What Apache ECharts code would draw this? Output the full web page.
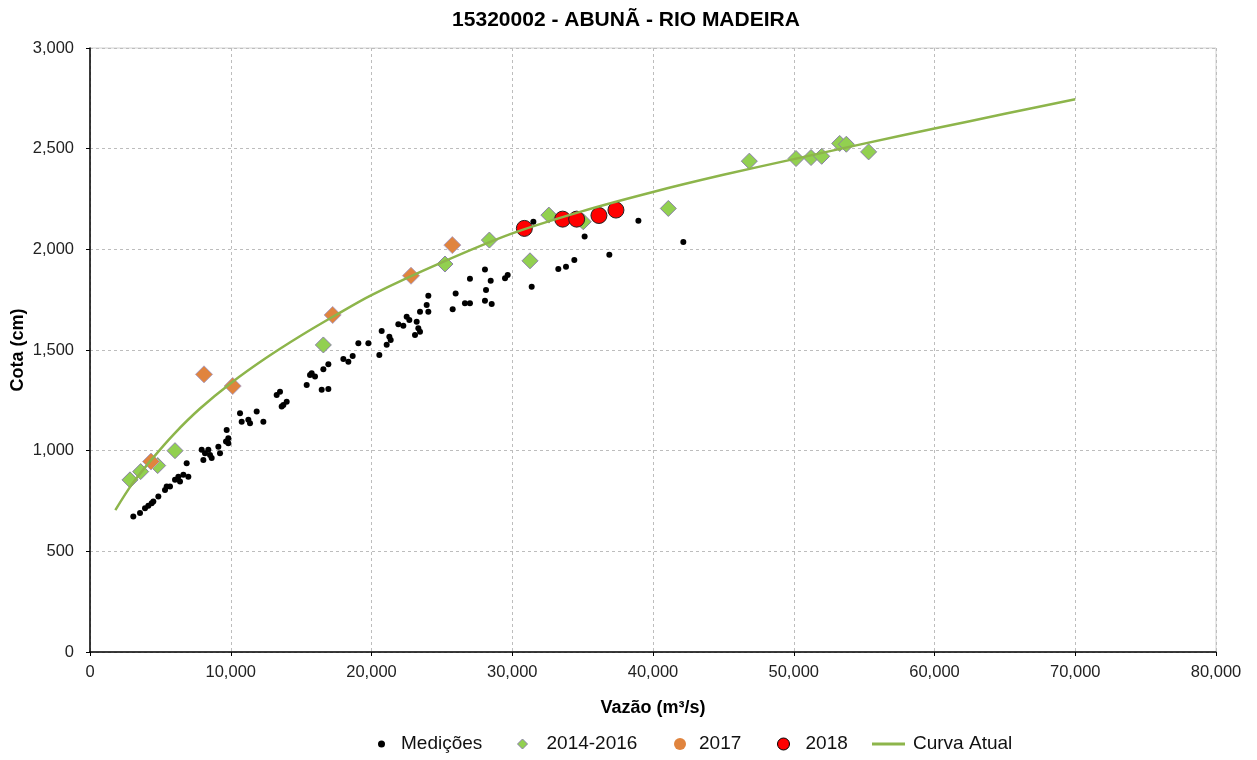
<!DOCTYPE html>
<html><head><meta charset="utf-8">
<script src="https://cdn.jsdelivr.net/npm/echarts@6/dist/echarts.min.js"></script>
<style>html,body{margin:0;padding:0;background:#fff}#c{width:1257px;height:760px}</style>
</head><body><div id="c"></div>
<script>
const titleText = "15320002 - ABUNÃ - RIO MADEIRA";
const xName = "Vazão (m³/s)";
const yName = "Cota (cm)";
const seriesNames = ["Medições", "2014-2016", "2017", "2018", "Curva Atual"];

const medQ = [3077,3553,3908,4144,4381,4500,4855,5329,5447,5684,6040,6277,6395,6632,6987,6869,7935,8172,8053,8408,8527,8645,9119,9237,9710,9829,9829,9663,10658,10776,11250,11368,11842,12316,13263,13500,13618,13737,13974,15395,15632,15750,15987,16461,16579,16934,16934,18000,18355,18663,19066,19776,20557,20723,21079,21268,21363,21907,22262,22499,22688,23091,23210,23328,23446,23446,23920,24038,24038,25766,25979,26640,26995,26995,28061,28061,28137,28469,28540,29487,29676,31381,31499,33273,33818,34410,35141,36898,38963,42155];
const medH = [673,690,714,726,739,747,772,805,822,822,855,871,847,880,871,938,1004,987,954,1004,979,963,1020,987,1103,1062,1037,1045,1186,1144,1153,1136,1194,1144,1277,1293,1219,1227,1243,1326,1376,1384,1368,1302,1404,1306,1429,1455,1442,1470,1533,1533,1475,1594,1526,1566,1550,1628,1620,1665,1649,1574,1640,1608,1591,1690,1723,1690,1769,1703,1781,1732,1732,1854,1745,1900,1798,1844,1728,1856,1872,1814,2137,1902,1913,1947,2064,1973,2142,2037];

const q1416 = [2842,3600,4808,6040,16579,25222,28374,31262,32600,35046,41089,46845,50162,51228,51986,53263,53736,55319];
const h1416 = [855,896,926,1000,1525,1927,2046,1943,2170,2137,2203,2438,2451,2456,2462,2526,2522,2484];

const q2017 = [4334,8100,10139,17242,22808,25742];
const h2017 = [946,1379,1321,1674,1869,2021];

const q2018 = [30860,33582,34576,36160,37368];
const h2018 = [2104,2150,2150,2168,2195];

const curveQ = [1800,3000,4400,6000,7800,10000,12500,15000,17500,20000,25000,30000,35000,40000,45000,50000,55000,60000,65000,70000];
const curveH = [705,835,958,1085,1208,1335,1460,1572,1675,1773,1935,2079,2190,2285,2370,2448,2525,2600,2673,2745];

const zip = (a, b) => a.map((v, i) => [v, b[i]]);
const fmt = v => v.toLocaleString('en-US');

const chart = echarts.init(document.getElementById('c'), null, {renderer: 'canvas'});
const font = "'Liberation Sans', Arial, sans-serif";
const legText = (pad) => ({fontFamily: font, fontSize: 19, color: '#111', padding: [0, 0, 0, pad], lineHeight: 22});
const leg = (name, left, w, h, icon, pad, extra) => ({
  show: true, orient: 'horizontal', left: left, top: 733, itemWidth: w, itemHeight: h, itemGap: 0,
  padding: 0, textStyle: legText(pad), data: [Object.assign({name: name, icon: icon}, extra || {})]
});

chart.setOption({
  animation: false,
  backgroundColor: '#ffffff',
  title: {
    text: titleText, left: 621, top: 5, textAlign: 'center',
    textStyle: {fontFamily: font, fontSize: 21, fontWeight: 'bold', color: '#000'}
  },
  grid: {left: 90, right: 41, top: 48, bottom: 108, show: true, borderColor: '#d0d0d0', borderWidth: 1,
         containLabel: false, outerBoundsMode: 'none'},
  legend: [
    leg(seriesNames[0], 378, 7, 7, 'circle', 11, {itemStyle: {color: '#000'}}),
    leg(seriesNames[1], 517, 10, 10, 'diamond', 14, {itemStyle: {color: '#92d050', borderColor: '#8a80a8', borderWidth: 1}}),
    leg(seriesNames[2], 674, 12, 12, 'circle', 8, {itemStyle: {color: '#e0843e', borderWidth: 0}}),
    leg(seriesNames[3], 777, 12, 12, 'circle', 11, {itemStyle: {color: '#ff0000', borderColor: '#000', borderWidth: 1}}),
    leg(seriesNames[4], 872, 33, 3, 'rect', 3, {itemStyle: {color: '#8db54b', borderWidth: 0}})
  ],
  xAxis: {
    type: 'value', min: 0, max: 80000, interval: 10000,
    name: xName, nameLocation: 'middle', nameGap: 47, nameMoveOverlap: false,
    nameTextStyle: {fontFamily: font, fontSize: 18, fontWeight: 'bold', color: '#000'},
    axisLine: {show: true, lineStyle: {color: '#000', width: 1.5}},
    axisTick: {show: true, length: 4, lineStyle: {color: '#000'}},
    axisLabel: {formatter: fmt, fontFamily: font, fontSize: 16.5, color: '#222', margin: 12},
    splitLine: {show: true, lineStyle: {color: '#bdbdbd', type: [3, 3], width: 1}}
  },
  yAxis: {
    type: 'value', min: 0, max: 3000, interval: 500,
    name: yName, nameLocation: 'middle', nameGap: 63, nameMoveOverlap: false,
    nameTextStyle: {fontFamily: font, fontSize: 18, fontWeight: 'bold', color: '#000'},
    axisLine: {show: true, lineStyle: {color: '#000', width: 1.5}},
    axisTick: {show: true, length: 4, lineStyle: {color: '#000'}},
    axisLabel: {formatter: fmt, fontFamily: font, fontSize: 16.5, color: '#222', margin: 16},
    splitLine: {show: true, lineStyle: {color: '#bdbdbd', type: [3, 3], width: 1}}
  },
  series: [
    {name: seriesNames[0], type: 'scatter', data: zip(medQ, medH), symbol: 'circle', symbolSize: 6,
     itemStyle: {color: '#000', opacity: 1}, z: 3},
    {name: seriesNames[1], type: 'scatter', data: zip(q1416, h1416), symbol: 'diamond', symbolSize: 16,
     itemStyle: {color: '#92d050', borderColor: '#8a80a8', borderWidth: 1, opacity: 1}, z: 4},
    {name: seriesNames[2], type: 'scatter', data: zip(q2017, h2017), symbol: 'diamond', symbolSize: 17,
     itemStyle: {color: '#e0843e', borderColor: '#b0a0c0', borderWidth: 1, opacity: 1}, z: 4},
    {name: seriesNames[3], type: 'scatter', data: zip(q2018, h2018), symbol: 'circle', symbolSize: 16,
     itemStyle: {color: '#ff0000', borderColor: '#222', borderWidth: 1, opacity: 1}, z: 5},
    {name: seriesNames[4], type: 'line', data: zip(curveQ, curveH), smooth: 0.3, showSymbol: false,
     symbol: 'none', lineStyle: {color: '#8db54b', width: 2.5}, itemStyle: {color: '#8db54b'}, z: 6}
  ]
});
</script></body></html>
